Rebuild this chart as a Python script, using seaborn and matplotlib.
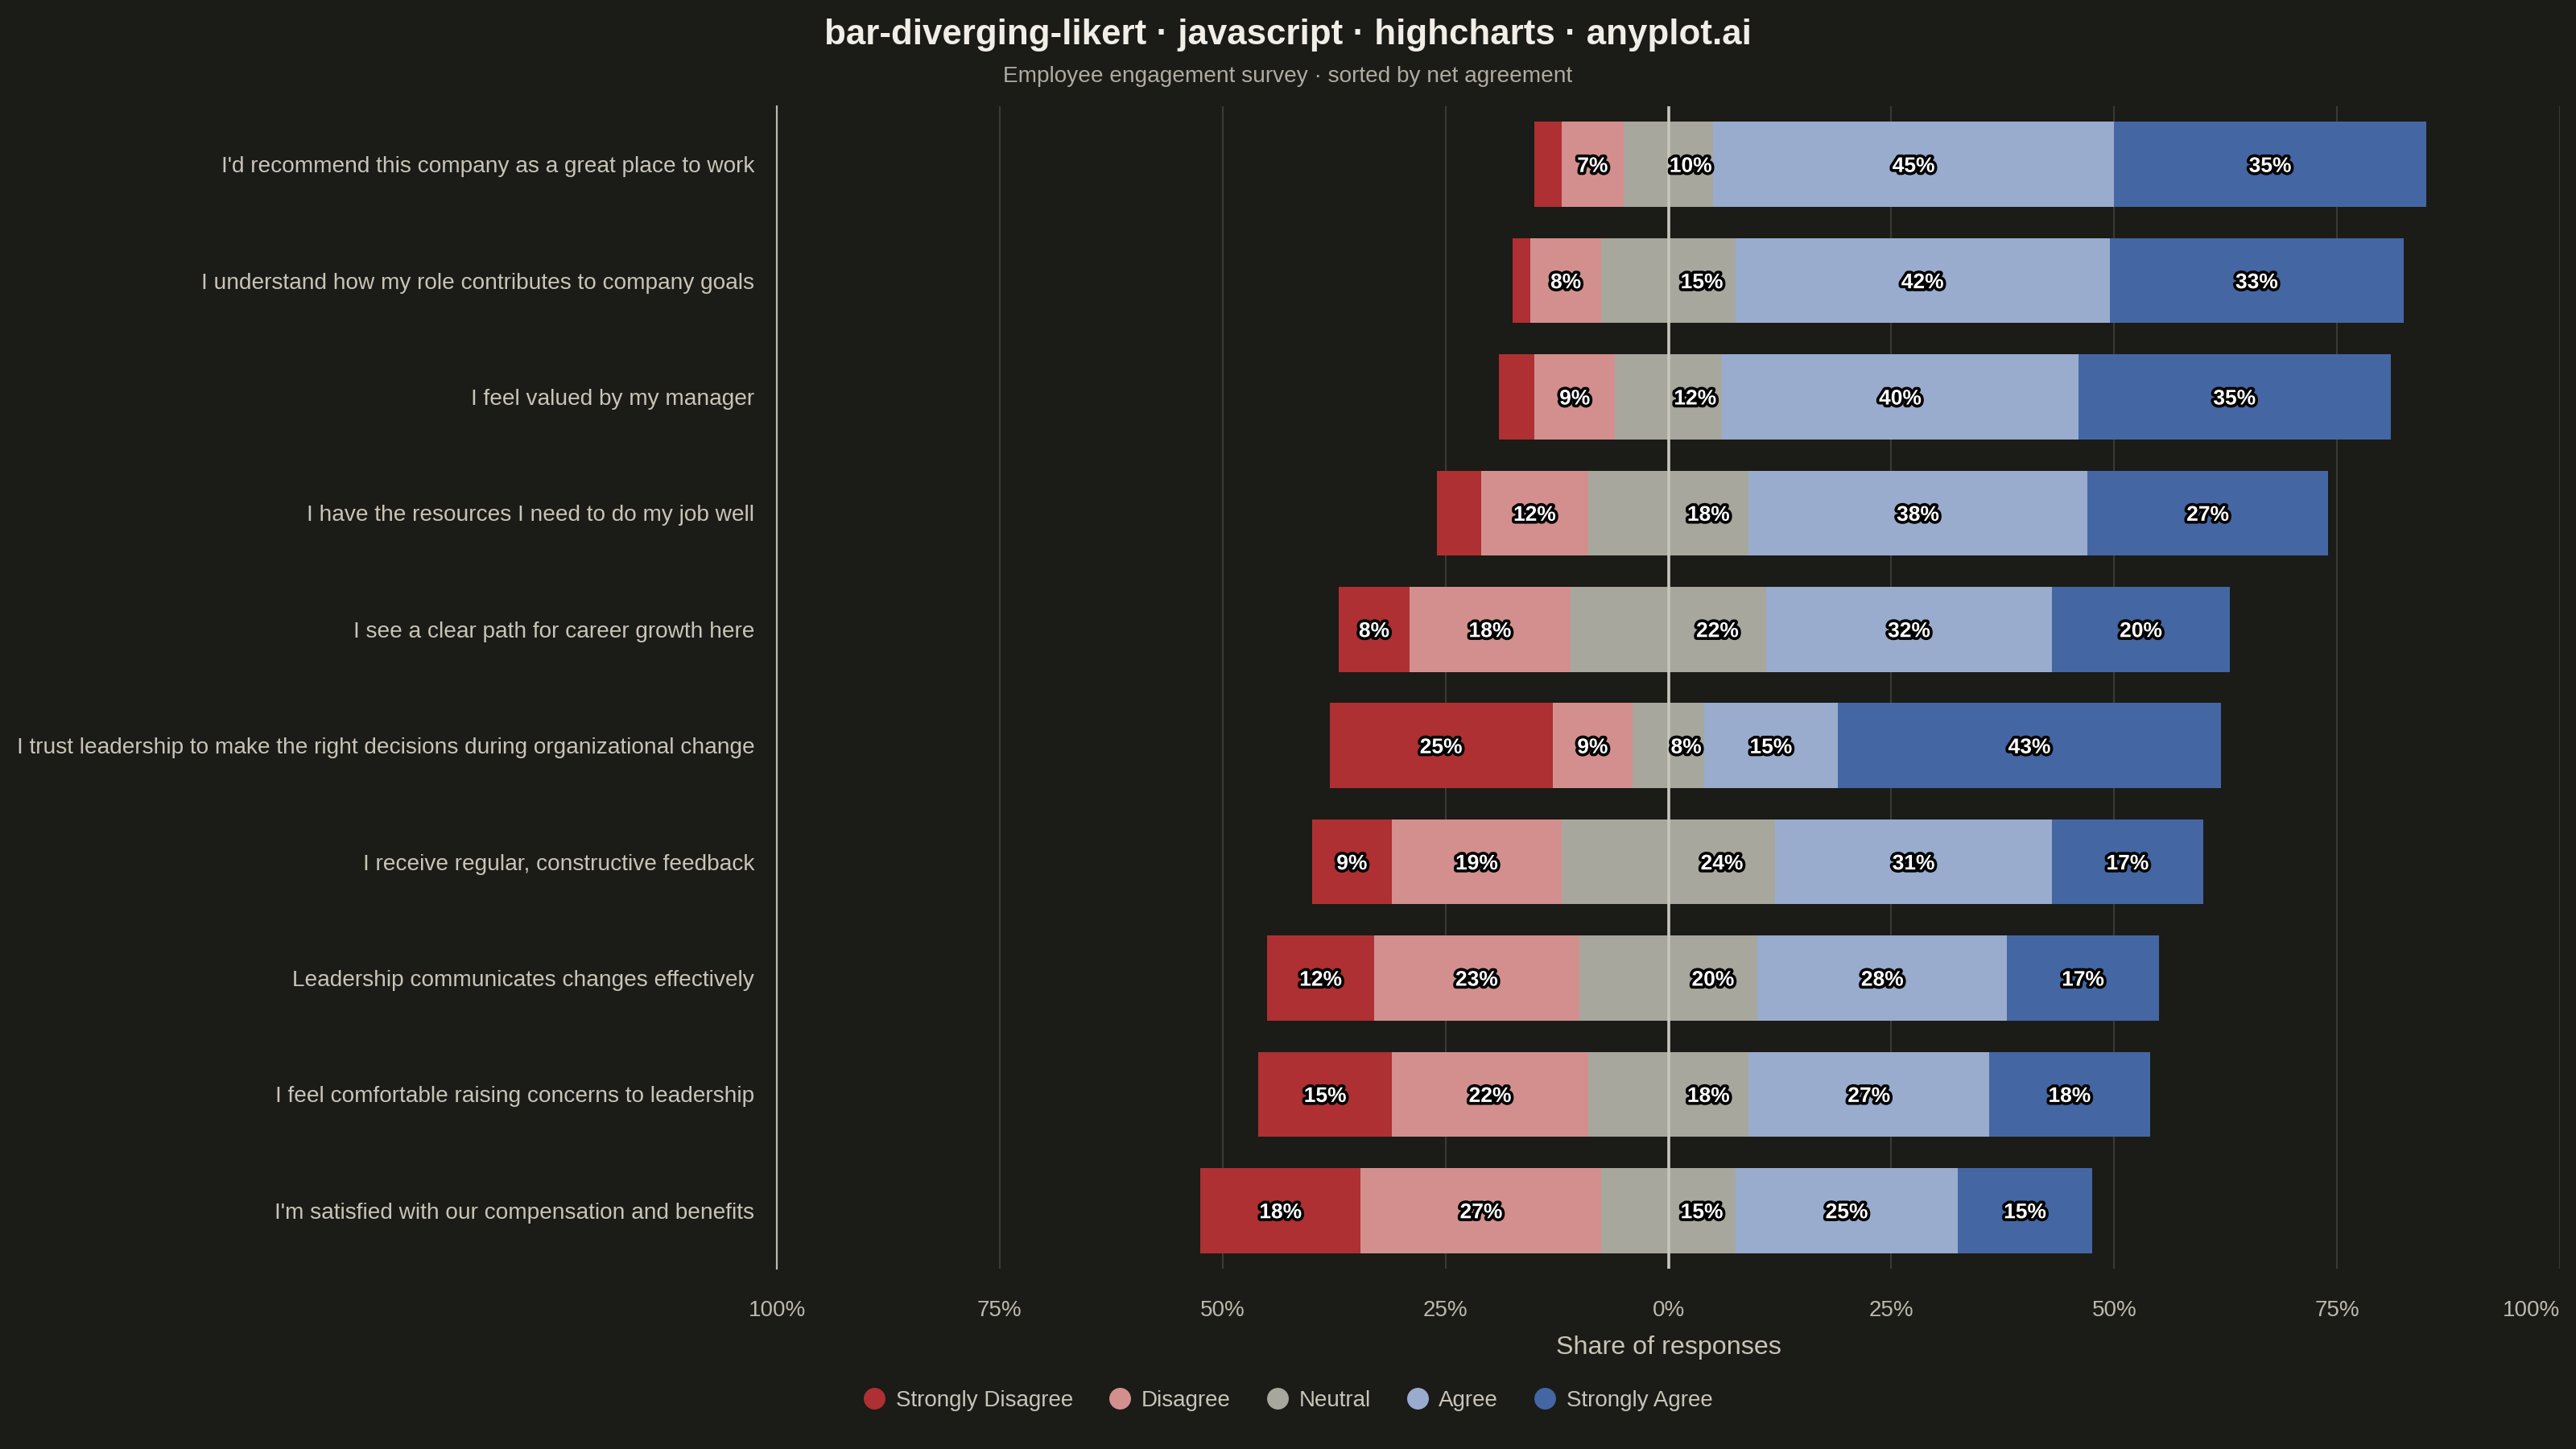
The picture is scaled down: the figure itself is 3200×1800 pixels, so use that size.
import numpy as np
import pandas as pd
import matplotlib
matplotlib.use("Agg")
import matplotlib.pyplot as plt
import matplotlib.patheffects as pe
from matplotlib.lines import Line2D
import seaborn as sns

# ---------------- data ----------------
questions = [
    "I'd recommend this company as a great place to work",
    "I understand how my role contributes to company goals",
    "I feel valued by my manager",
    "I have the resources I need to do my job well",
    "I see a clear path for career growth here",
    "I trust leadership to make the right decisions during organizational change",
    "I receive regular, constructive feedback",
    "Leadership communicates changes effectively",
    "I feel comfortable raising concerns to leadership",
    "I'm satisfied with our compensation and benefits",
]
strongly_disagree = [3, 2, 4, 5, 8, 25, 9, 12, 15, 18]
disagree = [7, 8, 9, 12, 18, 9, 19, 23, 22, 27]
neutral = [10, 15, 12, 18, 22, 8, 24, 20, 18, 15]
agree = [45, 42, 40, 38, 32, 15, 31, 28, 27, 25]
strongly_agree = [35, 33, 35, 27, 20, 43, 17, 17, 18, 15]

levels = ["Strongly Disagree", "Disagree", "Neutral", "Agree", "Strongly Agree"]
x_ticks = [-100, -75, -50, -25, 0, 25, 50, 75, 100]
x_tick_labels = ["100%", "75%", "50%", "25%", "0%", "25%", "50%", "75%", "100%"]

# ---------------- style ----------------
BG = "#1b1b17"
C_SD, C_D, C_N, C_A, C_SA = "#ae3032", "#d38f8e", "#a7a79e", "#99acce", "#4466a3"
level_colors = [C_SD, C_D, C_N, C_A, C_SA]
TXT_TITLE = "#f0eee6"
TXT_SUB = "#aeaba1"
TXT_LAB = "#c8c4b8"
TXT_TICK = "#bcb9ae"
GRID = "#3a3a35"
AXLINE = "#c8c5ba"

sns.set_theme(style="dark", rc={
    "axes.facecolor": BG,
    "figure.facecolor": BG,
    "savefig.facecolor": BG,
})
plt.rcParams["font.family"] = ["Liberation Sans", "DejaVu Sans"]

df = pd.DataFrame({
    "question": questions,
    "sd": strongly_disagree,
    "d": disagree,
    "n": neutral,
    "a": agree,
    "sa": strongly_agree,
})
half_n = df["n"] / 2
df["sa_end"] = half_n + df["a"] + df["sa"]
df["a_end"] = half_n + df["a"]
df["n_pos"] = half_n
df["n_neg"] = -half_n
df["d_end"] = -(half_n + df["d"])
df["sd_end"] = -(half_n + df["d"] + df["sd"])

fig = plt.figure(figsize=(16, 9), dpi=200)
ax = fig.add_axes([965 / 3200, 1 - 1576 / 1800, (3180 - 965) / 3200, (1576 - 132) / 1800])

for col, color in [("sa_end", C_SA), ("a_end", C_A), ("n_pos", C_N),
                   ("sd_end", C_SD), ("d_end", C_D), ("n_neg", C_N)]:
    sns.barplot(data=df, x=col, y="question", order=questions, orient="h",
                color=color, saturation=1, width=0.73, linewidth=0,
                errorbar=None, ax=ax, zorder=2)

# data labels
outline = [pe.withStroke(linewidth=2.6, foreground="#000000")]
for i, row in df.iterrows():
    hn = row["n"] / 2
    segs = [
        (row["sd"], row["sd_end"] + row["sd"] / 2),
        (row["d"], row["d_end"] + row["d"] / 2),
        (row["n"], hn / 2),
        (row["a"], hn + row["a"] / 2),
        (row["sa"], row["a_end"] + row["sa"] / 2),
    ]
    for v, xc in segs:
        if v >= 6:
            ax.text(xc, i, f"{int(v)}%", ha="center", va="center_baseline",
                    fontsize=9.5, fontweight="bold", color="white",
                    path_effects=outline, zorder=6)

ax.axvline(0, color=AXLINE, lw=1.3, zorder=5)

ax.set_xlim(-100, 100)
ax.set_ylim(len(questions) - 0.5, -0.5)
ax.set_xticks(x_ticks)
ax.set_xticklabels(x_tick_labels)
ax.get_xticklabels()[-1].set_horizontalalignment("right")
ax.grid(axis="x", color=GRID, lw=0.75, zorder=0)
ax.grid(axis="y", visible=False)
ax.set_axisbelow(True)
ax.set_xlabel("")
ax.set_ylabel("")
ax.tick_params(axis="x", length=0, pad=14, labelsize=10, labelcolor=TXT_TICK)
ax.tick_params(axis="y", length=0, pad=10, labelsize=10.1, labelcolor=TXT_LAB)
for s in ["top", "right", "bottom"]:
    ax.spines[s].set_visible(False)
ax.spines["left"].set_visible(True)
ax.spines["left"].set_color("#bdbab0")
ax.spines["left"].set_linewidth(0.8)

x_center = (965 + 3180) / 2 / 3200
fig.text(x_center, 1 - 1682 / 1800, "Share of responses", ha="center", va="baseline",
         fontsize=11.6, color=TXT_LAB)

fig.text(0.5, 1 - 55 / 1800, "bar-diverging-likert · javascript · highcharts · anyplot.ai",
         ha="center", va="baseline", fontsize=15.8, fontweight="bold", color=TXT_TITLE)
fig.text(0.5, 1 - 102 / 1800, "Employee engagement survey · sorted by net agreement",
         ha="center", va="baseline", fontsize=10.1, color=TXT_SUB)

handles = [Line2D([0], [0], marker="o", linestyle="", markersize=9.7,
                  markerfacecolor=c, markeredgewidth=0, label=l)
           for l, c in zip(levels, level_colors)]
leg = fig.legend(handles=handles, loc="center", bbox_to_anchor=(0.5, 1 - 1740 / 1800),
                 ncol=5, frameon=False, fontsize=10, handlelength=1.0,
                 handletextpad=0.45, columnspacing=1.6, labelcolor=TXT_LAB)

fig.savefig("out.png", dpi=200, facecolor=BG)
